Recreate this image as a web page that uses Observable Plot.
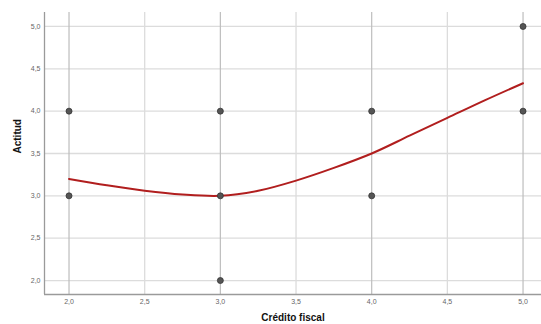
<!DOCTYPE html>
<html>
<head>
<meta charset="utf-8">
<script src="https://cdn.jsdelivr.net/npm/d3@7"></script>
<script src="https://cdn.jsdelivr.net/npm/@observablehq/plot@0.6"></script>
<style>
  html, body { margin: 0; padding: 0; background: #fff; }
  svg { display: block; }
</style>
</head>
<body>
<div id="chart"></div>
<script>
// Observed data points (Crédito fiscal, Actitud)
const pointX = [2, 2, 3, 3, 3, 4, 4, 5, 5];
const pointY = [4, 3, 4, 3, 2, 4, 3, 5, 4];

// Fitted curve
const curveX = [2.0, 2.25, 2.5, 2.75, 3.0, 3.25, 3.5, 3.75, 4.0, 4.25, 4.5, 4.75, 5.0];
const curveY = [3.20, 3.125, 3.06, 3.015, 3.0, 3.06, 3.18, 3.33, 3.50, 3.71, 3.92, 4.13, 4.33];

// Tick values
const xTicks = [2.0, 2.5, 3.0, 3.5, 4.0, 4.5, 5.0];
const yTicks = [2.0, 2.5, 3.0, 3.5, 4.0, 4.5, 5.0];
const xMajor = [2, 3, 4, 5];
const xMinor = [2.5, 3.5, 4.5];

const points = pointX.map((x, i) => ({x, y: pointY[i]}));
const curve = curveX.map((x, i) => ({x, y: curveY[i]}));

const xDomain = [1.838, 5.122];
const yDomain = [1.835, 5.165];
const fmt = d => d.toFixed(1).replace(".", ",");

const chart = Plot.plot({
  width: 541,
  height: 324,
  marginLeft: 44,
  marginRight: 0,
  marginTop: 12,
  marginBottom: 30,
  style: {fontFamily: "'Liberation Sans', Arial, sans-serif", background: "#fff"},
  x: {domain: xDomain},
  y: {domain: yDomain},
  marks: [
    Plot.ruleY(yTicks, {stroke: "#dcdcdc", strokeWidth: 1.3}),
    Plot.ruleX(xMinor, {stroke: "#dcdcdc", strokeWidth: 1.3}),
    Plot.ruleX(xMajor, {stroke: "#bdbdbd", strokeWidth: 1.2}),
    Plot.ruleX([xDomain[0]], {stroke: "#9a9a9a", strokeWidth: 1.3}),
    Plot.ruleY([yDomain[0]], {stroke: "#9a9a9a", strokeWidth: 1.3}),
    Plot.axisX({ticks: xTicks, tickFormat: fmt, tickSize: 0, tickPadding: 5, fontSize: 7, color: "#666", label: null}),
    Plot.axisY({ticks: yTicks, tickFormat: fmt, tickSize: 0, tickPadding: 4, fontSize: 7, color: "#666", label: null}),
    Plot.line(curve, {x: "x", y: "y", curve: "catmull-rom", stroke: "#b11e1e", strokeWidth: 2}),
    Plot.dot(points, {x: "x", y: "y", r: 3, fill: "#555", stroke: "#333", strokeWidth: 0.8}),
    Plot.text(["Actitud"], {frameAnchor: "left", dx: -27, rotate: -90, fontWeight: "bold", fontSize: 10, fill: "#111", lineAnchor: "middle"}),
    Plot.text(["Crédito fiscal"], {frameAnchor: "bottom", dy: 23, fontWeight: "bold", fontSize: 10, fill: "#111", lineAnchor: "middle"})
  ]
});
document.getElementById("chart").append(chart);
</script>
</body>
</html>
